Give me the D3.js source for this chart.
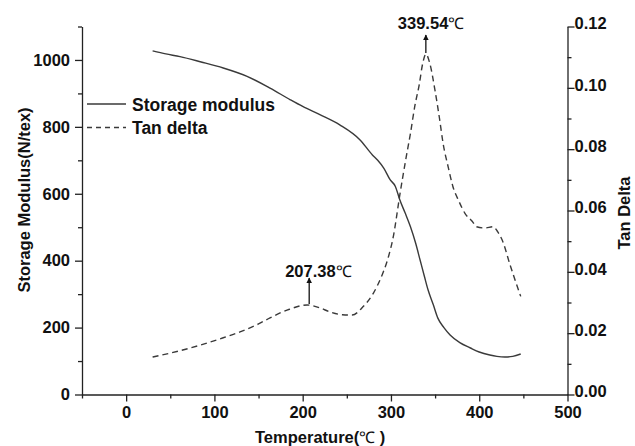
<!DOCTYPE html>
<html>
<head>
<meta charset="utf-8">
<script src="https://cdn.jsdelivr.net/npm/d3@7"></script>
<style>
  html, body { margin: 0; padding: 0; background: #fff; }
  svg text { font-family: "Liberation Sans", Arial, sans-serif; fill: #111; }
</style>
</head>
<body>
<svg id="chart" width="635" height="446"></svg>
<script>
// Storage modulus (N/tex) vs temperature (°C)
const modT = [30, 45, 61, 85, 110, 137, 163, 186, 200, 220, 242, 265, 279, 285, 292, 299, 305, 310, 316, 322, 328, 333, 338, 342, 348, 353, 360, 367, 378, 390, 400, 412, 420, 429, 438, 447];
const modV = [1027, 1018, 1010, 994, 976, 951, 916, 881, 861, 836, 806, 761, 716, 700, 676, 642, 622, 582, 543, 502, 452, 402, 352, 313, 268, 229, 200, 178, 155, 139, 127, 118, 114, 112, 114, 121];

// Tan delta vs temperature (°C)
const tanT = [30, 50, 84, 110, 129, 150, 163, 185, 205, 220, 231, 245, 256, 268, 280, 290, 296, 303, 310, 317, 322, 327, 332, 336, 339.54, 344, 350, 355, 359, 365, 370, 377, 384, 392, 397, 406, 416, 421, 426, 435, 441, 447];
const tanV = [0.0122, 0.0135, 0.0161, 0.0185, 0.0204, 0.023, 0.025, 0.0278, 0.0292, 0.0282, 0.0269, 0.026, 0.0259, 0.0285, 0.033, 0.039, 0.0438, 0.052, 0.065, 0.077, 0.085, 0.094, 0.101, 0.108, 0.111, 0.108, 0.099, 0.090, 0.082, 0.074, 0.068, 0.063, 0.059, 0.0565, 0.0547, 0.0543, 0.0547, 0.053, 0.0504, 0.0422, 0.037, 0.032];

// Axis ticks
const xTicks = [0, 100, 200, 300, 400, 500];
const xMinor = [-50, 50, 150, 250, 350, 450];
const yLeftTicks = [0, 200, 400, 600, 800, 1000];
const yLeftMinor = [100, 300, 500, 700, 900, 1100];
const yRightTicks = [0, 0.02, 0.04, 0.06, 0.08, 0.10, 0.12];
const yRightMinor = [0.01, 0.03, 0.05, 0.07, 0.09, 0.11];

// Peak annotations
const peakLabels = [
  { t: 339.54, v: 0.111, text: "339.54" },
  { t: 207.38, v: 0.0292, text: "207.38" }
];

const legendItems = [
  { name: "Storage modulus", dash: null },
  { name: "Tan delta", dash: "5,4" }
];

const svg = d3.select("#chart");
const m = { left: 82, right: 567.5, top: 26.5, bottom: 394.5 };

const x = d3.scaleLinear().domain([-50, 500]).range([m.left, m.right]);
const yL = d3.scaleLinear().domain([0, 1100]).range([m.bottom, m.top]);
const yR = d3.scaleLinear().domain([0, 0.12]).range([m.bottom, m.top]);

const axisColor = "#222";
const FONT = "'Liberation Sans', Arial, sans-serif";
const tickFont = `bold 16.5px ${FONT}`;
const titleFont = `bold 16.5px ${FONT}`;

function styleAxis(g) {
  g.selectAll("path.domain").attr("stroke", axisColor).attr("stroke-width", 1.3);
  g.selectAll(".tick line").attr("stroke", axisColor).attr("stroke-width", 1.3);
  g.selectAll(".tick text").style("font", tickFont).attr("fill", "#111");
}
function minorStyle(g) {
  g.select("path.domain").remove();
  g.selectAll("line").attr("stroke", axisColor).attr("stroke-width", 1.3);
}

// Bottom axis
const gx = svg.append("g").attr("transform", `translate(0,${m.bottom})`)
  .call(d3.axisBottom(x).tickValues(xTicks).tickSize(7).tickPadding(5).tickSizeOuter(0));
styleAxis(gx);
svg.append("g").attr("transform", `translate(0,${m.bottom})`)
  .call(d3.axisBottom(x).tickValues(xMinor).tickSize(4).tickFormat("").tickSizeOuter(0))
  .call(minorStyle);

// Left axis
const gyl = svg.append("g").attr("transform", `translate(${m.left},0)`)
  .call(d3.axisLeft(yL).tickValues(yLeftTicks).tickSize(7).tickPadding(5).tickSizeOuter(0).tickFormat(d3.format("d")));
styleAxis(gyl);
svg.append("g").attr("transform", `translate(${m.left},0)`)
  .call(d3.axisLeft(yL).tickValues(yLeftMinor).tickSize(4).tickFormat("").tickSizeOuter(0))
  .call(minorStyle);

// Right axis
const gyr = svg.append("g").attr("transform", `translate(${m.right},0)`)
  .call(d3.axisRight(yR).tickValues(yRightTicks).tickSize(7).tickPadding(0).tickSizeOuter(0).tickFormat(d3.format(".2f")));
styleAxis(gyr);
gyr.selectAll(".tick text").attr("dy", "0.15em");
svg.append("g").attr("transform", `translate(${m.right},0)`)
  .call(d3.axisRight(yR).tickValues(yRightMinor).tickSize(4).tickFormat("").tickSizeOuter(0))
  .call(minorStyle);

// Axis titles
const xTitle = svg.append("text")
  .attr("x", 255).attr("y", 443)
  .style("font", titleFont);
xTitle.append("tspan").text("Temperature(");
xTitle.append("tspan").style("font", `16px ${FONT}`).text("℃");
xTitle.append("tspan").text("  )");

svg.append("text")
  .attr("transform", `translate(30,200) rotate(-90)`)
  .attr("text-anchor", "middle")
  .style("font", titleFont)
  .text("Storage Modulus(N/tex)");

svg.append("text")
  .attr("transform", `translate(630,213) rotate(-90)`)
  .attr("text-anchor", "middle")
  .style("font", titleFont)
  .text("Tan Delta");

// Curves
const modData = modT.map((t, i) => [t, modV[i]]);
const tanData = tanT.map((t, i) => [t, tanV[i]]);

svg.append("path")
  .datum(modData)
  .attr("fill", "none")
  .attr("stroke", "#3a3a3a")
  .attr("stroke-width", 1.4)
  .attr("d", d3.line().x(d => x(d[0])).y(d => yL(d[1])).curve(d3.curveMonotoneX));

svg.append("path")
  .datum(tanData)
  .attr("fill", "none")
  .attr("stroke", "#3a3a3a")
  .attr("stroke-width", 1.4)
  .attr("stroke-dasharray", "6,4")
  .attr("d", d3.line().x(d => x(d[0])).y(d => yR(d[1])).curve(d3.curveMonotoneX));

// Arrow marker
svg.append("defs").append("marker")
  .attr("id", "arrowhead")
  .attr("viewBox", "0 0 10 10")
  .attr("refX", 9).attr("refY", 5)
  .attr("markerWidth", 7).attr("markerHeight", 5.5)
  .attr("markerUnits", "userSpaceOnUse")
  .attr("orient", "auto")
  .append("path").attr("d", "M0,0 L10,5 L0,10 Z").attr("fill", "#111");

// Peak annotations: arrow points up from the peak to the label
const arrowLen = [19, 27];
const textGap = [6, 1];
const textShift = [28, 24];
peakLabels.forEach((p, i) => {
  const px = x(p.t);
  const py = yR(p.v);
  const tipY = py - arrowLen[i];
  svg.append("line")
    .attr("x1", px).attr("y1", py - 1)
    .attr("x2", px).attr("y2", tipY)
    .attr("stroke", "#111").attr("stroke-width", 1.3)
    .attr("marker-end", "url(#arrowhead)");
  const label = svg.append("text")
    .attr("x", px - textShift[i]).attr("y", tipY - textGap[i])
    .style("font", `bold 16.5px ${FONT}`);
  label.append("tspan").text(p.text);
  label.append("tspan").style("font", `16px ${FONT}`).text("℃");
});

// Legend
const lg = svg.append("g").attr("transform", "translate(87,104)");
legendItems.forEach((d, i) => {
  const row = lg.append("g").attr("transform", `translate(0,${i * 23.5})`);
  row.append("line")
    .attr("x1", 0).attr("x2", 39).attr("y1", 0).attr("y2", 0)
    .attr("stroke", "#3a3a3a").attr("stroke-width", 1.4)
    .attr("stroke-dasharray", d.dash);
  row.append("text")
    .attr("x", 45).attr("y", 6.5)
    .style("font", `bold 17.5px ${FONT}`)
    .text(d.name);
});
</script>
</body>
</html>
